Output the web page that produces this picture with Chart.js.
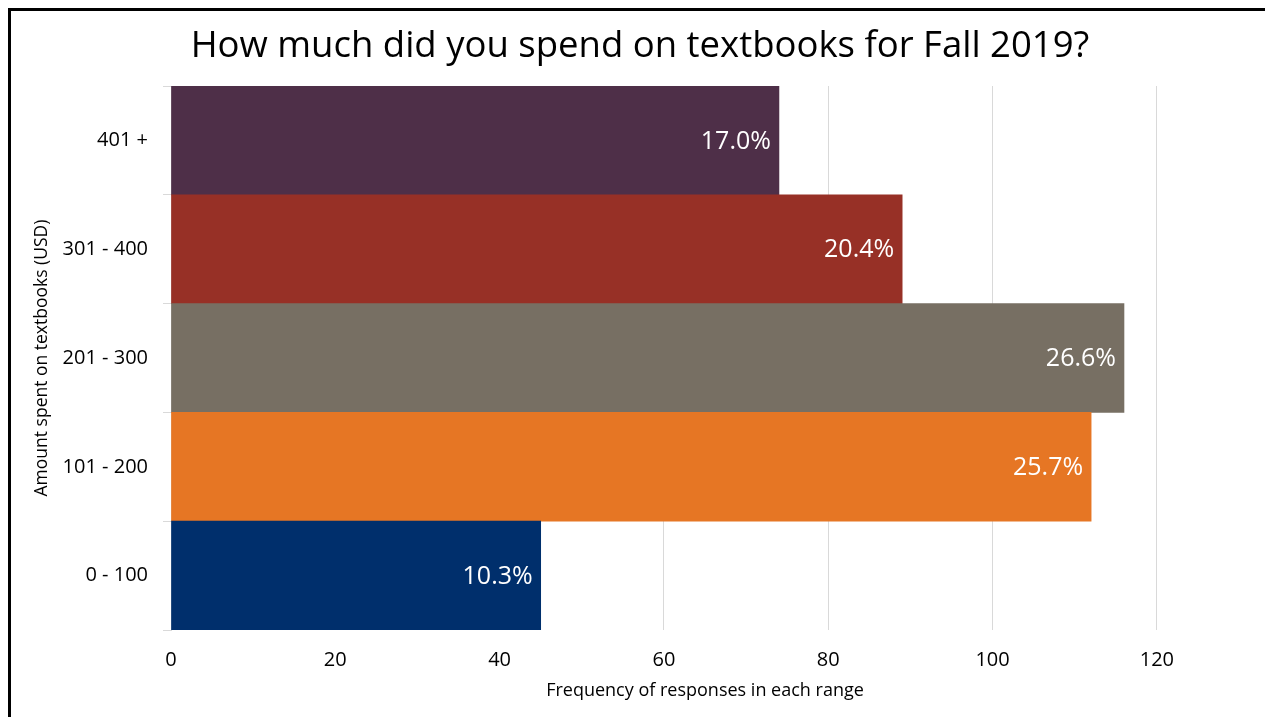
<!DOCTYPE html>
<html>
<head>
<meta charset="utf-8">
<title>Textbook spending, Fall 2019</title>
<script src="https://cdn.jsdelivr.net/npm/chart.js@4.4.1/dist/chart.umd.min.js"></script>
<style>
    body { margin: 0; background: #fff; }
    #wrap { position: relative; width: 1265px; height: 717px; }
    #frame {
        position: absolute; left: 8px; top: 8px; right: 0; bottom: 0;
        border-top: 3px solid #000; border-left: 3px solid #000;
        pointer-events: none;
    }
</style>
</head>
<body>
<div id="wrap">
    <canvas id="spendChart" width="1265" height="717"></canvas>
    <div id="frame"></div>
</div>
<script>
// survey answers, top row first
var ranges = ['401 +', '301 - 400', '201 - 300', '101 - 200', '0 - 100'];
var responses = [74, 89, 116, 112, 45];
var barColors = ['#4E2F48', '#973026', '#776F63', '#E67624', '#002F6C'];
var xTicks = [0, 20, 40, 60, 80, 100, 120];
var chartTitle = 'How much did you spend on textbooks for Fall 2019?';

var total = responses.reduce(function (a, b) { return a + b; }, 0);

// title over the whole frame, not just the plot
var pageTitle = {
    id: 'pageTitle',
    afterDraw: function (chart) {
        var ctx = chart.ctx;
        ctx.save();
        ctx.font = '36.5px "Open Sans"';
        ctx.fillStyle = '#000';
        ctx.textAlign = 'center';
        ctx.textBaseline = 'alphabetic';
        ctx.fillText(chartTitle, 640, 57);
        ctx.restore();
    }
};

// writes the share of all responses inside the end of each bar
var shareLabels = {
    id: 'shareLabels',
    afterDatasetsDraw: function (chart) {
        var ctx = chart.ctx;
        var meta = chart.getDatasetMeta(0);
        ctx.save();
        ctx.font = '25px "Open Sans"';
        ctx.fillStyle = '#fff';
        ctx.textAlign = 'right';
        ctx.textBaseline = 'middle';
        meta.data.forEach(function (bar, i) {
            var pct = (responses[i] / total * 100).toFixed(1) + '%';
            ctx.fillText(pct, bar.x - 8, bar.y + 1);
        });
        ctx.restore();
    }
};

var ctx = document.getElementById('spendChart').getContext('2d');
new Chart(ctx, {
    type: 'bar',
    data: {
        labels: ranges,
        datasets: [{
            data: responses,
            backgroundColor: barColors,
            barPercentage: 1,
            categoryPercentage: 1
        }]
    },
    options: {
        indexAxis: 'y',
        responsive: false,
        animation: false,
        layout: { padding: { left: 0, right: 26, top: 86, bottom: 0 } },
        plugins: {
            legend: { display: false },
            tooltip: { enabled: false },
            title: { display: false }
        },
        scales: {
            x: {
                min: 0,
                max: 130,
                afterBuildTicks: function (s) {
                    s.ticks = xTicks.map(function (v) { return { value: v }; });
                },
                afterFit: function (s) { s.height = 87; },
                grid: { color: '#d9d9d9', drawTicks: false },
                border: { display: false },
                ticks: {
                    color: '#000',
                    padding: 18,
                    font: { family: 'Open Sans', size: 20 }
                },
                title: {
                    display: true,
                    text: 'Frequency of responses in each range',
                    color: '#000',
                    font: { family: 'Open Sans', size: 18, lineHeight: 1.2 },
                    padding: { top: 0, bottom: 15 }
                }
            },
            y: {
                afterFit: function (s) { s.width = 171; },
                grid: {
                    drawOnChartArea: false,
                    color: '#d9d9d9',
                    tickLength: 8
                },
                border: { color: '#d9d9d9' },
                ticks: {
                    color: '#000',
                    padding: 15,
                    font: { family: 'Open Sans', size: 20 }
                },
                title: {
                    display: true,
                    text: 'Amount spent on textbooks (USD)',
                    color: '#000',
                    font: { family: 'Open Sans', size: 17.5, lineHeight: 1.2 },
                    padding: { top: 32, bottom: 0 }
                }
            }
        }
    },
    plugins: [shareLabels, pageTitle]
});
</script>
</body>
</html>
